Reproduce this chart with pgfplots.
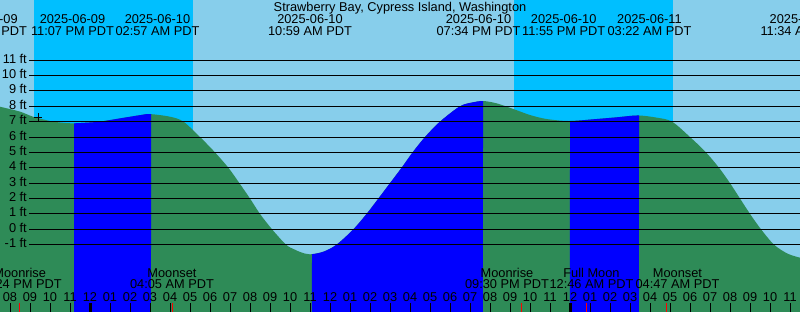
\documentclass[border=0pt]{standalone}
\usepackage{pgfplots}
\pgfplotsset{compat=1.18}
\usepgfplotslibrary{fillbetween}
\usepackage{fontspec}
\setmainfont{Liberation Sans}
\definecolor{sky}{HTML}{87CEEB}
\definecolor{night}{HTML}{00BFFF}
\definecolor{sea}{HTML}{2E8B57}
\definecolor{flood}{HTML}{0000FF}
\newcommand\lf{\fontsize{12.8}{13}\selectfont}
\begin{document}
\begin{tikzpicture}
\begin{axis}[width=800pt,height=312pt,scale only axis,
  xmin=-4.5,xmax=35.5,ymin=-5.38,ymax=14.91,
  hide axis, set layers]
\coordinate (sw) at (rel axis cs:0,0);
\coordinate (ne) at (rel axis cs:1,1);
% sky
\addplot[fill=sky,draw=none,on layer=axis background] coordinates {(-4.5,-5.38)(-4.5,14.91)(35.5,14.91)(35.5,-5.38)};
% night bands
\addplot[fill=night,draw=none,on layer=axis background] coordinates {(-2.8,-5.38)(-2.8,14.91)(5.15,14.91)(5.15,-5.38)};
\addplot[fill=night,draw=none,on layer=axis background] coordinates {(21.2,-5.38)(21.2,14.91)(29.15,14.91)(29.15,-5.38)};
% tide curve (hours from 2025-06-10 00:00 PDT, feet)
\addplot[name path=tide,draw=none,smooth] coordinates {
(-4.6,8.02)(-4.5,7.97)(-3.5,7.65)(-2.85,7.32)(-2.0,7.04)(-1.4,6.93)(-0.85,6.89)(-0.2,6.93)
(0.5,7.0)(1.5,7.21)(2.5,7.42)(3.0,7.49)(4.0,7.32)(4.67,7.0)(5.5,6.0)(6.25,5)(6.92,4)
(7.47,3)(8.0,2)(8.5,1)(9.1,0)(9.8,-1)(10.2,-1.3)(10.55,-1.5)(11.0,-1.63)
(11.67,-1.46)(12.33,-1)(13.17,0)(13.83,1)(14.42,2)(15.0,3)(15.58,4)(16.13,5)
(16.75,6)(17.5,7)(18.5,8)(19.17,8.26)(19.67,8.34)(20.33,8.19)
(21.17,7.82)(22.0,7.43)(22.83,7.17)(23.95,7.04)(25.33,7.17)(26.33,7.28)(27.4,7.40)
(28.33,7.26)(29.1,7.0)(30.0,6.0)(30.8,5)(31.45,4)(32.0,3)(32.5,2)
(33.0,1)(33.55,0)(34.2,-1)(34.9,-1.6)(35.6,-1.88)};
\addplot[name path=bot,draw=none] coordinates {(-4.6,-5.38)(35.6,-5.38)};
\addplot[sea] fill between[of=tide and bot];
\addplot[flood] fill between[of=tide and bot, soft clip={domain=-0.8:3.05}];
\addplot[flood] fill between[of=tide and bot, soft clip={domain=11.1:19.65}];
\addplot[flood] fill between[of=tide and bot, soft clip={domain=24.0:27.45}];
% level lines
\pgfplotsinvokeforeach{-1,...,11}{
  \addplot[black,line width=1pt] coordinates {(-3.03,#1)(35.5,#1)};
  \node[anchor=base east,inner sep=0,font=\lf,yshift=-3pt] at (axis cs:-3.15,#1) {#1 ft};
}
% current time marker
\addplot[only marks,mark=+,mark size=4pt,black,line width=0.8pt] coordinates {(-2.6,7.3)};
% hour ticks
\pgfplotsinvokeforeach{-4,...,35}{
  \addplot[black,line width=1pt] coordinates {(#1,-4.81)(#1,-5.38)};
  \pgfmathtruncatemacro\hr{mod(#1+36,12)}%
  \ifnum\hr=0 \def\hr{12}\fi
  \edef\tmp{\noexpand\node[anchor=base,inner sep=0,font=\noexpand\lf] at (axis cs:#1,-4.71) {\ifnum\hr<10 0\fi\hr};}%
  \tmp
}
\addplot[black,line width=3pt] coordinates {(0,-4.81)(0,-5.38)};
\addplot[black,line width=3pt] coordinates {(24,-4.81)(24,-5.38)};
% moon events
\addplot[red,line width=1pt] coordinates {(-3.535,-4.81)(-3.535,-5.38)};
\addplot[red,line width=1pt] coordinates {(4.1,-4.81)(4.1,-5.38)};
\addplot[red,line width=1pt] coordinates {(21.55,-4.81)(21.55,-5.38)};
\addplot[red,line width=1pt] coordinates {(24.8,-4.81)(24.8,-5.38)};
\addplot[red,line width=1pt] coordinates {(28.835,-4.81)(28.835,-5.38)};
\tikzset{lab/.style={anchor=base,inner sep=0,font=\lf}}
\node[lab] at (axis cs:-3.515,-3.15) {Moonrise};
\node[lab] at (axis cs:-3.515,-3.88) {08:24 PM PDT};
\node[lab] at (axis cs:4.1,-3.15) {Moonset};
\node[lab] at (axis cs:4.1,-3.88) {04:05 AM PDT};
\node[lab] at (axis cs:20.85,-3.15) {Moonrise};
\node[lab] at (axis cs:20.85,-3.88) {09:30 PM PDT};
\node[lab] at (axis cs:25.075,-3.15) {Full Moon};
\node[lab] at (axis cs:25.075,-3.88) {12:46 AM PDT};
\node[lab] at (axis cs:29.375,-3.15) {Moonset};
\node[lab] at (axis cs:29.375,-3.88) {04:47 AM PDT};
% title and tide labels
\node[lab] at (axis cs:15.5,14.15) {Strawberry Bay, Cypress Island, Washington};
\node[lab] at (axis cs:-5.25,13.37) {2025-06-09};
\node[lab] at (axis cs:-5.25,12.59) {06:45 PM PDT};
\node[lab] at (axis cs:-0.875,13.37) {2025-06-09};
\node[lab] at (axis cs:-0.875,12.59) {11:07 PM PDT};
\node[lab] at (axis cs:3.375,13.37) {2025-06-10};
\node[lab] at (axis cs:3.375,12.59) {02:57 AM PDT};
\node[lab] at (axis cs:11.0,13.37) {2025-06-10};
\node[lab] at (axis cs:11.0,12.59) {10:59 AM PDT};
\node[lab] at (axis cs:19.425,13.37) {2025-06-10};
\node[lab] at (axis cs:19.425,12.59) {07:34 PM PDT};
\node[lab] at (axis cs:23.685,13.37) {2025-06-10};
\node[lab] at (axis cs:23.685,12.59) {11:55 PM PDT};
\node[lab] at (axis cs:27.975,13.37) {2025-06-11};
\node[lab] at (axis cs:27.975,12.59) {03:22 AM PDT};
\node[lab] at (axis cs:35.6,13.37) {2025-06-11};
\node[lab] at (axis cs:35.6,12.59) {11:34 AM PDT};
\end{axis}
\pgfresetboundingbox
\path[use as bounding box] (sw) rectangle (ne);
\end{tikzpicture}
\end{document}
